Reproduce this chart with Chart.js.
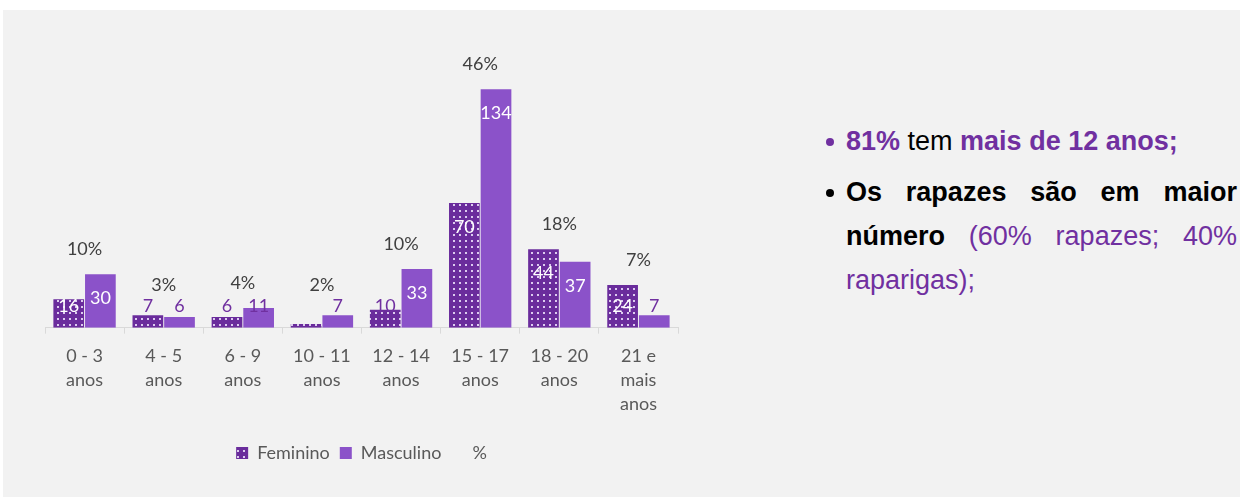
<!DOCTYPE html>
<html lang="pt">
<head>
<meta charset="utf-8">
<title>Idades</title>
<script src="https://cdn.jsdelivr.net/npm/chart.js@4"></script>
<style>
  body { margin: 0; background: #fff; width: 1240px; height: 497px; overflow: hidden; font-family: Lato, sans-serif; }
  #painel { position: absolute; left: 3px; top: 10px; width: 1237px; height: 487px; background: #f2f2f2; }
  #grafico { position: absolute; left: 22px; top: 30px; width: 673px; height: 432px; }
  #notas { position: absolute; left: 846px; top: 119px; width: 391px; font-family: "Liberation Sans", Arial, sans-serif;
           font-size: 27px; line-height: 44px; text-align: justify; color: #000; }
  #notas p { margin: 0 0 7px 0; position: relative; }
  #notas p:before { content: ""; position: absolute; left: -20px; top: 19px; width: 8px; height: 8px; border-radius: 50%; background: #000; }
  #notas p.roxo:before { background: #7030a0; }
  .roxo { color: #7030a0; }
  b { font-weight: bold; }
</style>
</head>
<body>
<div id="painel">
  <div id="grafico"><canvas id="c"></canvas></div>
</div>
<div id="notas">
  <p class="roxo"><b>81%</b> <span style="color:#000">tem</span> <b>mais de 12 anos;</b></p>
  <p><b>Os rapazes são em maior número</b> <span class="roxo">(60% rapazes; 40% raparigas);</span></p>
</div>
<script>
const faixas = [["0 - 3", "anos"], ["4 - 5", "anos"], ["6 - 9", "anos"], ["10 - 11", "anos"],
                ["12 - 14", "anos"], ["15 - 17", "anos"], ["18 - 20", "anos"], ["21 e", "mais", "anos"]];
const feminino = [16, 7, 6, 2, 10, 70, 44, 24];
const masculino = [30, 6, 11, 7, 33, 134, 37, 7];
const percentagem = ["10%", "3%", "4%", "2%", "10%", "46%", "18%", "7%"];

// fundo roxo escuro com pontinhos claros
function padraoPontos() {
  const c = document.createElement("canvas");
  c.width = 6; c.height = 6;
  const g = c.getContext("2d");
  g.fillStyle = "#6a2c9c";
  g.fillRect(0, 0, 6, 6);
  g.fillStyle = "#dccbef";
  g.fillRect(2, 2, 2, 2);
  return g.createPattern(c, "repeat");
}

// valores das barras e percentagens por faixa
const rotulos = {
  id: "rotulos",
  afterDatasetsDraw(chart) {
    const ctx = chart.ctx;
    const base = chart.scales.y.getPixelForValue(0);
    ctx.save();
    ctx.font = "18px Lato";
    ctx.textAlign = "center";
    ctx.textBaseline = "middle";
    chart.data.datasets.forEach((ds, i) => {
      chart.getDatasetMeta(i).data.forEach((bar, j) => {
        const v = ds.data[j];
        if (v < 3) return;
        const y = Math.min(bar.y + 24, base - 21);
        ctx.fillStyle = y > bar.y ? "#fff" : "#7030a0";
        ctx.fillText(v, bar.x, y);
      });
    });
    const f = chart.getDatasetMeta(0).data, m = chart.getDatasetMeta(1).data;
    ctx.fillStyle = "#404040";
    percentagem.forEach((p, j) => {
      const topo = Math.min(f[j].y, m[j].y, base - 17);
      ctx.fillText(p, (f[j].x + m[j].x) / 2, topo - 25);
    });
    ctx.restore();
  }
};

new Chart(document.getElementById("c"), {
  type: "bar",
  data: {
    labels: faixas,
    datasets: [
      { label: "Feminino", data: feminino, backgroundColor: padraoPontos(), categoryPercentage: 0.8, barPercentage: 0.97 },
      { label: "Masculino", data: masculino, backgroundColor: "#8b52c9", categoryPercentage: 0.8, barPercentage: 0.97 }
    ]
  },
  options: {
    responsive: true,
    maintainAspectRatio: false,
    animation: false,
    layout: { padding: { left: 20, right: 20, top: 10, bottom: 0 } },
    scales: {
      x: {
        grid: { offset: true, drawOnChartArea: false, tickLength: 6, color: "#d9d9d9" },
        border: { color: "#d9d9d9" },
        ticks: { color: "#595959", font: { family: "Lato", size: 18, lineHeight: 1.34 }, padding: 10, maxRotation: 0, autoSkip: false },
        afterFit(s) { s.height += 8; }
      },
      y: { display: false, min: 0, max: 156 }
    },
    plugins: {
      tooltip: { enabled: false },
      legend: {
        position: "bottom",
        labels: {
          boxWidth: 12, boxHeight: 12, padding: 10, color: "#595959",
          font: { family: "Lato", size: 18 },
          generateLabels(chart) {
            const itens = Chart.defaults.plugins.legend.labels.generateLabels(chart);
            itens.push({ text: "%", fillStyle: "rgba(0,0,0,0)", strokeStyle: "rgba(0,0,0,0)", lineWidth: 0, hidden: false, datasetIndex: -1 });
            return itens;
          }
        }
      }
    }
  },
  plugins: [rotulos]
});
</script>
</body>
</html>
